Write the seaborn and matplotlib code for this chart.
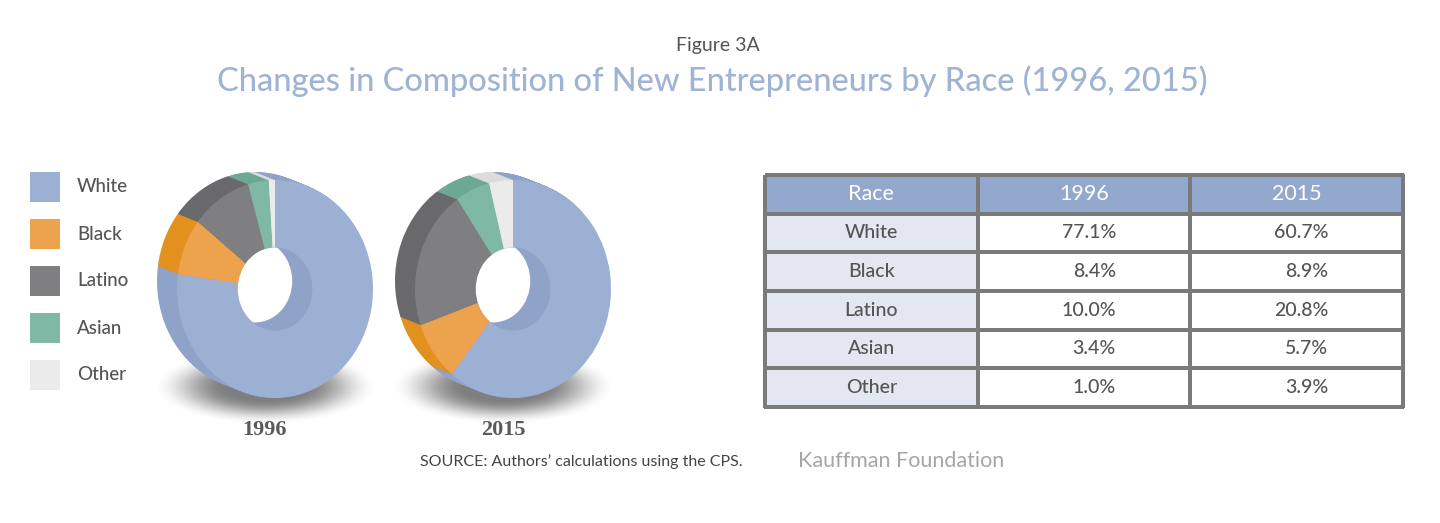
import numpy as np
import matplotlib
matplotlib.use("Agg")
import matplotlib.pyplot as plt
import seaborn as sns
from matplotlib.colors import ListedColormap
from matplotlib.patches import Ellipse, Rectangle

# data
races = ["White", "Black", "Latino", "Asian", "Other"]
share_1996 = [77.1, 8.4, 10.0, 3.4, 1.0]
share_2015 = [60.7, 8.9, 20.8, 5.7, 3.9]
years = ["1996", "2015"]

face_colors = ["#9cb0d3", "#eda24e", "#7f7f81", "#7fb9a5", "#ebebeb"]
side_colors = ["#8fa3c9", "#e2901e", "#69696b", "#6ca894", "#dcdcdc"]

sns.set_theme(style="white")
plt.rcParams["font.family"] = ["Lato", "DejaVu Sans"]

W, H = 1440, 523
fig = plt.figure(figsize=(W / 100, H / 100), dpi=100)
fig.patch.set_facecolor("white")


def px_axes(x0, y0, x1, y1):
    # axes placed by pixel box (top-left origin)
    return fig.add_axes([x0 / W, 1 - y1 / H, (x1 - x0) / W, (y1 - y0) / H])


bg = px_axes(0, 0, W, H)
bg.axis("off")

# titles
bg.text(718, 46, "Figure 3A", ha="center", va="center", fontsize=14, color="#555555")
bg.text(712, 81, "Changes in Composition of New Entrepreneurs by Race (1996, 2015)",
        ha="center", va="center", fontsize=23.5, color="#9fb3d4", fontweight="medium")

# legend
for i, (race, col) in enumerate(zip(races, face_colors)):
    y = 187 + i * 47
    bg.add_patch(Rectangle((30, y - 15), 30, 30, color=col, lw=0))
    bg.text(77, y, race, ha="left", va="center", fontsize=13.5, color="#555555",
            fontweight="medium")

# donuts
centers = [275, 513]
label_x = [264, 503]
cy = 289

# soft shadows under the donuts
gx, gy = np.meshgrid(np.arange(0, 260), np.arange(0, 100))
for cx in centers:
    r = np.sqrt(((gx - 130) / 112) ** 2 + ((gy - 50) / 38) ** 2)
    s = np.clip((r - 0.35) / 0.65, 0, 1)
    alpha = 0.75 * (1 - s * s * (3 - 2 * s))
    img = np.zeros(gx.shape + (4,))
    img[..., :3] = 0.33
    img[..., 3] = alpha
    bg.imshow(img, extent=(cx - 10 - 130, cx - 10 + 130, 386 + 50, 386 - 50),
              aspect="auto", interpolation="bilinear", zorder=0)

bg.set_xlim(0, W)
bg.set_ylim(H, 0)


def donut(cx, cy, values, rx=98, ry=109, dx=-20, dy=-8, hole=0.38):
    pad = 6
    x0, x1 = cx - rx + dx - pad, cx + rx + pad
    y0, y1 = cy - ry + dy - pad, cy + ry + pad
    ax = px_axes(x0, y0, x1, y1)
    steps = 24
    for k in range(steps, 0, -1):
        t = k / steps
        ax.pie(values, colors=side_colors, startangle=90, counterclock=False,
               center=(t * dx / rx, -t * dy / ry), radius=1,
               wedgeprops=dict(linewidth=0))
    ax.pie(values, colors=face_colors, startangle=90, counterclock=False, radius=1,
           wedgeprops=dict(width=1 - hole, linewidth=0))
    wall = Ellipse((0, 0), 2 * hole, 2 * hole, color="#8fa3c9", lw=0)
    ax.add_patch(wall)
    opening = Ellipse((dx / rx, -dy / ry), 2 * hole, 2 * hole, color="white", lw=0)
    ax.add_patch(opening)
    opening.set_clip_path(wall)
    ax.set_aspect("auto")
    ax.set_xlim((x0 - cx) / rx, (x1 - cx) / rx)
    ax.set_ylim((cy - y1) / ry, (cy - y0) / ry)
    ax.axis("off")
    return ax


for cx, lx, yr, vals in zip(centers, label_x, years, [share_1996, share_2015]):
    donut(cx, cy, vals)
    bg.text(lx, 430, yr, ha="center", va="center", fontsize=16, fontweight="bold",
            family=["Liberation Serif", "DejaVu Serif"], color="#5a5a5a")

# table
cells = [["Race"] + years] + [[r, f"{a:.1f}%", f"{b:.1f}%"]
                              for r, a, b in zip(races, share_1996, share_2015)]
codes = np.zeros((len(cells), 3))
codes[0, :] = 2
codes[1:, 0] = 1
tab = px_axes(765, 175, 1403, 407)
sns.heatmap(codes, ax=tab, cmap=ListedColormap(["white", "#e3e7f1", "#92a8cc"]),
            vmin=0, vmax=2, cbar=False, annot=np.array(cells), fmt="",
            linewidths=1.5, linecolor="#7a7a7a", xticklabels=False, yticklabels=False,
            annot_kws=dict(fontsize=14, color="#555555", fontweight="medium"))
tab.collections[0].set_clip_on(False)
for t in tab.texts:
    x, y = t.get_position()
    row, col = int(y), int(x)
    if row == 0:
        t.set_color("white")
        t.set_fontsize(15.5)
        t.set_fontweight("normal")
    elif col > 0:
        t.set_position((col + 0.65, y))
        t.set_ha("right")

# footer
bg.text(420, 462, "SOURCE: Authors\u2019 calculations using the CPS.", ha="left", va="center",
        fontsize=11.5, color="#444444")
bg.text(798, 461, "Kauffman Foundation", ha="left", va="center", fontsize=15.5, color="#a6a6a6")

fig.savefig("out.png", dpi=100)
